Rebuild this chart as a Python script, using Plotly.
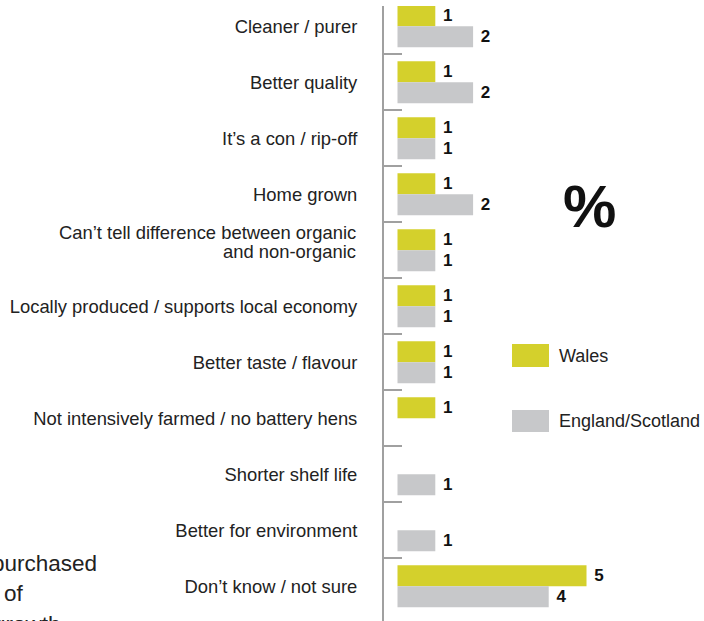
import plotly.graph_objects as go

# Survey responses (%)
categories = [
    "Cleaner / purer",
    "Better quality",
    "It\u2019s a con / rip-off",
    "Home grown",
    "Can\u2019t tell difference between organic<br>and non-organic",
    "Locally produced / supports local economy",
    "Better taste / flavour",
    "Not intensively farmed / no battery hens",
    "Shorter shelf life",
    "Better for environment",
    "Don\u2019t know / not sure",
]
wales = [1, 1, 1, 1, 1, 1, 1, 1, None, None, 5]
england_scotland = [2, 2, 1, 2, 1, 1, 1, None, 1, 1, 4]

series_names = ["Wales", "England/Scotland"]
series_colors = ["#d4d02c", "#c7c8ca"]

W, H = 704, 621
ML, MR, MT, MB = 384, 0, 6, 0
PW, PH = W - ML - MR, H - MT - MB


def px_x(x):
    return (x - ML) / PW


def px_y(y):
    return 1 - (y - MT) / PH


FONT = "Liberation Sans, Arial, sans-serif"
LABEL_SIZE = 18.4
LABEL_GAP = 27
positions = list(range(len(categories)))


def labels(vals):
    return ["\u00a0" + str(v) if v is not None else "" for v in vals]


fig = go.Figure()
for name, vals, color in zip(series_names, [wales, england_scotland], series_colors):
    fig.add_trace(go.Bar(
        y=positions, x=vals, orientation="h", name=name,
        marker=dict(color=color, line=dict(width=0)),
        text=labels(vals), textposition="outside", constraintext="none",
        textfont=dict(family=FONT, size=17, color="#111111", weight="bold"),
        cliponaxis=False, showlegend=False,
    ))

# Single-line categories go on the axis; wrapped ones are set line by line
tick_text = [c if "<br>" not in c else "" for c in categories]

fig.update_layout(
    width=W, height=H,
    margin=dict(l=ML, r=MR, t=MT, b=MB, pad=0),
    paper_bgcolor="white", plot_bgcolor="white",
    barmode="group", bargap=0.25, bargroupgap=0,
    font=dict(family=FONT, color="#222222"),
    xaxis=dict(range=[-0.357, 8.108], visible=False, showgrid=False, zeroline=False),
    yaxis=dict(
        range=[10.62, -0.3625],
        tickmode="array", tickvals=positions, ticktext=tick_text,
        ticks="", showgrid=False, zeroline=False,
        showline=True, linecolor="#a0a0a0", linewidth=2,
        tickfont=dict(family=FONT, size=LABEL_SIZE, color="#222222"),
        ticklabelstandoff=LABEL_GAP - 6,
        minor=dict(
            tickmode="array",
            tickvals=[p + 0.5 for p in positions[:-1]],
            ticks="inside", ticklen=18, tickwidth=2, tickcolor="#a0a0a0",
            showgrid=False,
        ),
    ),
)

for pos, cat in zip(positions, categories):
    if "<br>" in cat:
        for line, shift in zip(cat.split("<br>"), [18, -1]):
            fig.add_annotation(xref="paper", yref="y", x=0, y=pos, yshift=shift,
                               xshift=-LABEL_GAP + 1, text=line, showarrow=False,
                               xanchor="right", yanchor="middle",
                               font=dict(family=FONT, size=LABEL_SIZE, color="#222222"))

# Legend swatches and labels
legend_rows = [(344, 367, 356), (410, 432, 421)]
for (y0, y1, yc), name, color in zip(legend_rows, series_names, series_colors):
    fig.add_shape(type="rect", xref="paper", yref="paper",
                  x0=px_x(512), x1=px_x(549), y0=px_y(y1), y1=px_y(y0),
                  fillcolor=color, line=dict(width=0))
    fig.add_annotation(xref="paper", yref="paper", x=px_x(557), y=px_y(yc),
                       text=name, showarrow=False, xanchor="left", yanchor="middle",
                       font=dict(family=FONT, size=18, color="#222222"))

# Unit marker
fig.add_annotation(xref="paper", yref="paper", x=px_x(589), y=px_y(206),
                   text="<b>%</b>", showarrow=False, xanchor="center", yanchor="middle",
                   font=dict(family=FONT, size=60, color="#111111"))

# Side note text running off the left edge
note_font = dict(family=FONT, size=22.5, color="#222222")
fig.add_annotation(xref="paper", yref="paper", x=px_x(99), y=px_y(563),
                   text="purchased", showarrow=False, xanchor="right", yanchor="middle",
                   font=note_font)
fig.add_annotation(xref="paper", yref="paper", x=px_x(2), y=px_y(593),
                   text="of", showarrow=False, xanchor="left", yanchor="middle",
                   font=note_font)
fig.add_annotation(xref="paper", yref="paper", x=px_x(-9), y=px_y(624),
                   text="growth", showarrow=False, xanchor="left", yanchor="middle",
                   font=note_font)

fig.write_html("out.html")
